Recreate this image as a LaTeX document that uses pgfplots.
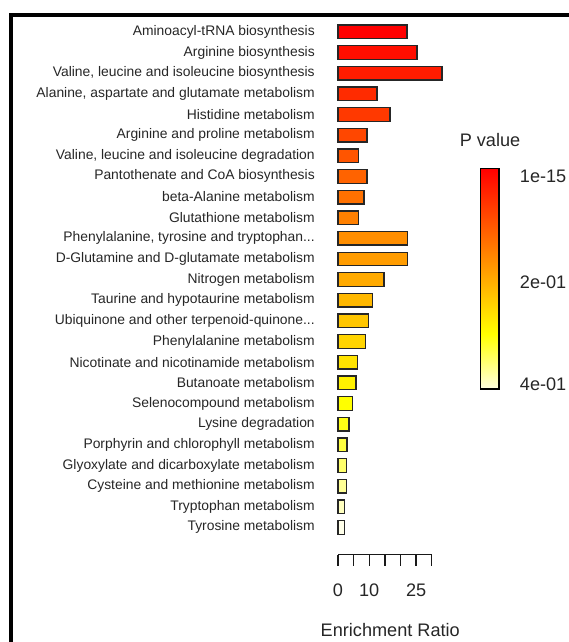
\documentclass[border=0pt]{standalone}
\usepackage{fontspec}
\setmainfont{Liberation Sans}
\usepackage{pgfplots}
\pgfplotsset{compat=1.18}

\newcommand{\tdots}{...}

\definecolor{r1}{rgb}{1,0.0000,0}
\definecolor{r2}{rgb}{1,0.0556,0}
\definecolor{r3}{rgb}{1,0.1111,0}
\definecolor{r4}{rgb}{1,0.1667,0}
\definecolor{r5}{rgb}{1,0.2222,0}
\definecolor{r6}{rgb}{1,0.2778,0}
\definecolor{r7}{rgb}{1,0.3333,0}
\definecolor{r8}{rgb}{1,0.3889,0}
\definecolor{r9}{rgb}{1,0.4444,0}
\definecolor{r10}{rgb}{1,0.5000,0}
\definecolor{r11}{rgb}{1,0.5556,0}
\definecolor{r12}{rgb}{1,0.6111,0}
\definecolor{r13}{rgb}{1,0.6667,0}
\definecolor{r14}{rgb}{1,0.7222,0}
\definecolor{r15}{rgb}{1,0.7778,0}
\definecolor{r16}{rgb}{1,0.8333,0}
\definecolor{r17}{rgb}{1,0.8889,0}
\definecolor{r18}{rgb}{1,0.9444,0}
\definecolor{r19}{rgb}{1,1,0}
\definecolor{r20}{rgb}{1,1,0.0833}
\definecolor{r21}{rgb}{1,1,0.2500}
\definecolor{r22}{rgb}{1,1,0.4167}
\definecolor{r23}{rgb}{1,1,0.5833}
\definecolor{r24}{rgb}{1,1,0.7500}
\definecolor{r25}{rgb}{1,1,0.9167}

\pgfplotsset{
  mybar/.style={xbar, bar shift=0pt, bar width=0.66, draw=black!85, line width=1pt, fill=#1},
}

\begin{document}
\begin{tikzpicture}
\useasboundingbox (0,0) rectangle (426pt,481.5pt);
\begin{axis}[
  at={(253.5pt,65.5pt)}, anchor=south west,
  scale only axis, width=70.3pt, height=406.95pt,
  xmin=0, xmax=30, ymin=-0.322, ymax=25.96,
  clip=false,
  axis x line*=bottom, axis y line*=left,
  y axis line style={draw=none},
  x axis line style={line width=1pt, black!90},
  xtick={0,5,10,15,20,25,30}, xticklabels={0,,10,,,25,},
  x tick style={line width=1pt, black!90},
  tick align=outside, major tick length=8.25pt,
  ytick={1,2,3,4,5,6,7,8,9,10,11,12,13,14,15,16,17,18,19,20,21,22,23,24,25},
  yticklabels={Tyrosine metabolism, Tryptophan metabolism, Cysteine and methionine metabolism, Glyoxylate and dicarboxylate metabolism, Porphyrin and chlorophyll metabolism, Lysine degradation, Selenocompound metabolism, Butanoate metabolism, Nicotinate and nicotinamide metabolism, Phenylalanine metabolism, Ubiquinone and other terpenoid-quinone\tdots, Taurine and hypotaurine metabolism, Nitrogen metabolism, D-Glutamine and D-glutamate metabolism, {Phenylalanine, tyrosine and tryptophan\tdots}, Glutathione metabolism, beta-Alanine metabolism, Pantothenate and CoA biosynthesis, {Valine, leucine and isoleucine degradation}, Arginine and proline metabolism, Histidine metabolism, {Alanine, aspartate and glutamate metabolism}, {Valine, leucine and isoleucine biosynthesis}, Arginine biosynthesis, Aminoacyl-tRNA biosynthesis},
  y tick style={draw=none},
  xticklabel style={font=\fontsize{13.6}{16}\selectfont, text=black!85, anchor=north, inner sep=0pt, yshift=-13.25pt},
  yticklabel style={font=\fontsize{10.4}{12}\selectfont, text=black!85, anchor=east, inner sep=0pt, xshift=-9pt},
  colormap={heat}{rgb(0cm)=(1,1,0.88) rgb(1cm)=(1,1,0) rgb(4cm)=(1,0,0)},
  point meta min=0, point meta max=1,
  colorbar,
  colorbar style={
    at={(parent axis.south west)}, anchor=south west,
    xshift=98.5pt, yshift=124.25pt,
    scale only axis, width=13.7pt, height=165.2pt,
    axis line style={line width=0.8pt, black},
    ytick={0.023,0.486,0.967}, yticklabels={4e-01,2e-01,1e-15},
    ytick style={draw=none}, major tick length=0pt,
    yticklabel style={font=\fontsize{13.6}{16}\selectfont, text=black!85, anchor=west, inner sep=0pt, xshift=15.5pt},
  },
]
\addplot[mybar=r1]  coordinates {(22.1,25)};
\addplot[mybar=r2]  coordinates {(25.3,24)};
\addplot[mybar=r3]  coordinates {(33.3,23)};
\addplot[mybar=r4]  coordinates {(12.5,22)};
\addplot[mybar=r5]  coordinates {(16.6,21)};
\addplot[mybar=r6]  coordinates {(9.3,20)};
\addplot[mybar=r7]  coordinates {(6.6,19)};
\addplot[mybar=r8]  coordinates {(9.3,18)};
\addplot[mybar=r9]  coordinates {(8.3,17)};
\addplot[mybar=r10] coordinates {(6.5,16)};
\addplot[mybar=r11] coordinates {(22.2,15)};
\addplot[mybar=r12] coordinates {(22.2,14)};
\addplot[mybar=r13] coordinates {(14.7,13)};
\addplot[mybar=r14] coordinates {(11.1,12)};
\addplot[mybar=r15] coordinates {(9.8,11)};
\addplot[mybar=r16] coordinates {(8.8,10)};
\addplot[mybar=r17] coordinates {(6.3,9)};
\addplot[mybar=r18] coordinates {(5.8,8)};
\addplot[mybar=r19] coordinates {(4.7,7)};
\addplot[mybar=r20] coordinates {(3.5,6)};
\addplot[mybar=r21] coordinates {(2.9,5)};
\addplot[mybar=r22] coordinates {(2.7,4)};
\addplot[mybar=r23] coordinates {(2.7,3)};
\addplot[mybar=r24] coordinates {(2.15,2)};
\addplot[mybar=r25] coordinates {(2.05,1)};
\end{axis}
\node[font=\fontsize{13.6}{16}\selectfont, text=black!85, anchor=base] at (292.7pt,3.75pt) {Enrichment Ratio};
\node[font=\fontsize{13.6}{16}\selectfont, text=black!85, anchor=center] at (367.5pt,376.5pt) {P value};
\draw[line width=3pt, line join=miter] (7.9pt,-5pt) -- (7.9pt,470.5pt) -- (440pt,470.5pt);
\end{tikzpicture}
\end{document}
